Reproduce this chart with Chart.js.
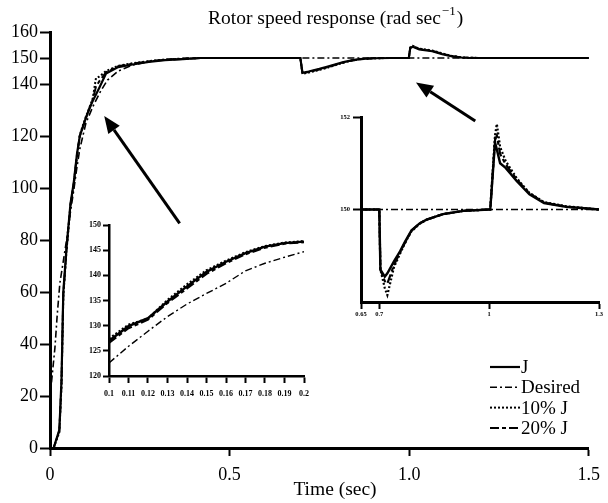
<!DOCTYPE html>
<html>
<head>
<meta charset="utf-8">
<title>Rotor speed response</title>
<script src="https://cdn.jsdelivr.net/npm/chart.js@4.4.1/dist/chart.umd.min.js"></script>
<style>
  body { margin: 0; background: #fff; }
  #wrap { position: relative; width: 608px; height: 503px; }
  #wrap canvas { position: absolute; }
</style>
</head>
<body>
<div id="wrap">
  <canvas id="main" width="608" height="503" style="left:0;top:0"></canvas>
  <canvas id="zoomRise" width="255" height="195" style="left:60px;top:212px"></canvas>
  <canvas id="zoomLoad" width="288" height="225" style="left:320px;top:105px"></canvas>
</div>
<script>
// ---- main plot: rotor speed (rad/s) vs time (s)
const mainTime = [0, 0.01, 0.026, 0.032, 0.037, 0.046, 0.057, 0.066, 0.075, 0.083,
  0.1, 0.11, 0.119, 0.128, 0.137, 0.156, 0.19, 0.23, 0.275, 0.32,
  0.37, 0.42, 0.697, 0.703, 0.72, 0.75, 0.771, 0.8, 0.817, 0.84,
  0.862, 0.9, 0.95, 0.999, 1.003, 1.01, 1.028, 1.064, 1.092, 1.12,
  1.15, 1.2, 1.5];
const speedJ = [0, 0, 7, 26, 60, 77, 94, 102, 113, 120,
  127, 130.5, 133.5, 136, 138.5, 144, 146.5, 147.5, 148.5, 149.2,
  149.6, 150, 150, 144.3, 144.8, 145.8, 146.6, 147.8, 148.4, 149.1,
  149.6, 149.9, 150, 150, 153.8, 154.3, 153.3, 152.6, 151.5, 150.6,
  150.1, 150, 150];
const speedJ10 = [0, 0, 6, 24, 58, 76, 93, 101, 112, 120.5,
  127.5, 131, 134.5, 142.3, 142.8, 145, 147, 148, 148.8, 149.4,
  149.7, 150, 150, 143.9, 144.4, 145.4, 146.2, 147.5, 148.2, 149,
  149.5, 149.9, 150, 150, 154.1, 154.7, 153.6, 152.9, 151.8, 150.8,
  150.2, 150, 150];
const speedJ20 = [0, 0, 6.5, 25, 59, 76.5, 93.5, 101.5, 112.5, 120,
  127, 130.8, 134, 139, 141, 144.5, 146.8, 147.8, 148.7, 149.3,
  149.6, 150, 150, 144.1, 144.6, 145.6, 146.4, 147.6, 148.3, 149,
  149.5, 149.9, 150, 150, 153.9, 154.5, 153.5, 152.8, 151.6, 150.7,
  150.2, 150, 150];
const desiredTime = [0, 0.0137, 0.02, 0.0275, 0.035, 0.045, 0.055, 0.066, 0.075, 0.083,
  0.1, 0.12, 0.14, 0.16, 0.19, 0.23, 0.275, 0.32, 0.38, 1.5];
const speedDesired = [19.5, 38.5, 51, 63.5, 70, 79, 89, 99, 108, 115,
  125, 131.5, 137, 141.5, 145, 147.3, 148.6, 149.4, 150, 150];
const yTicks = [0, 20, 40, 60, 80, 100, 120, 140, 150, 160];
const xTicks = [0, 0.5, 1.0, 1.5];
const xTickLabels = ['0', '0.5', '1.0', '1.5'];

// ---- inset 1: start-up, 0.1 .. 0.2 s
const riseTime = [0.1, 0.11, 0.12, 0.13, 0.14, 0.15, 0.16, 0.17, 0.18, 0.19, 0.2];
const riseJ = [127, 129.9, 131.5, 134.8, 137.8, 140.7, 142.7, 144.4, 145.7, 146.4, 146.7];
const riseJ10 = [127.4, 130.2, 131.4, 135.1, 138.2, 141.0, 142.9, 144.6, 145.8, 146.5, 146.8];
const riseJ20 = [126.6, 129.5, 131.2, 134.5, 137.4, 140.3, 142.4, 144.2, 145.5, 146.3, 146.6];
const riseDesired = [122.6, 125.9, 128.9, 131.8, 134.3, 136.4, 138.4, 140.9, 142.4, 143.6, 144.7];
const riseXTicks = [0.1, 0.11, 0.12, 0.13, 0.14, 0.15, 0.16, 0.17, 0.18, 0.19, 0.2];
const riseXLabels = ['0.1', '0.11', '0.12', '0.13', '0.14', '0.15', '0.16', '0.17', '0.18', '0.19', '0.2'];
const riseYTicks = [120, 125, 130, 135, 140, 145, 150];

// ---- inset 2: load disturbance, 0.65 .. 1.3 s
const loadTime = [0.65, 0.7, 0.703, 0.715, 0.722, 0.74, 0.757, 0.77, 0.788, 0.81,
  0.829, 0.874, 0.93, 1.0, 1.003, 1.016, 1.021, 1.03, 1.045, 1.075,
  1.11, 1.15, 1.21, 1.3];
const loadJ = [150, 150, 148.7, 148.55, 148.62, 148.88, 149.1, 149.3, 149.55, 149.7,
  149.78, 149.9, 149.97, 150, 150, 151.45, 151.3, 151.0, 150.9, 150.62,
  150.33, 150.14, 150.06, 150];
const loadJ10 = [150, 150, 148.7, 148.3, 148.15, 148.75, 149.05, 149.27, 149.53, 149.69,
  149.78, 149.9, 149.97, 150, 150, 151.6, 151.85, 151.35, 151.05, 150.68,
  150.36, 150.16, 150.07, 150];
const loadJ20 = [150, 150, 148.7, 148.45, 148.4, 148.8, 149.08, 149.28, 149.54, 149.7,
  149.78, 149.9, 149.97, 150, 150, 151.5, 151.6, 151.2, 150.98, 150.65,
  150.35, 150.15, 150.06, 150];
const loadDesiredTime = [0.65, 1.3];
const loadDesired = [150, 150];
const loadXTicks = [0.65, 0.7, 1, 1.3];
const loadXLabels = ['0.65', '0.7', '1', '1.3'];
const loadYTicks = [150, 152];

// arrows from the insets to the zoomed regions, in main-plot data units [x0, y0, x1, y1]
const arrows = [[0.361, 86.4, 0.151, 127.7], [1.184, 125.8, 1.019, 140.6]];

const SERIF = '"Liberation Serif", "Times New Roman", serif';
const dashes = { 'J': [], 'Desired': [7, 3, 2, 3], '10% J': [2, 2], '20% J': [9, 3, 4, 3] };

function pts(xs, ys) {
  return xs.map((x, i) => ({ x: x, y: ys[i] }));
}

function series(label, xs, ys, width) {
  return {
    label: label,
    data: pts(xs, ys),
    borderColor: '#000',
    backgroundColor: '#000',
    borderWidth: width,
    borderDash: dashes[label],
    pointRadius: 0,
    showLine: true,
    fill: false,
    tension: 0
  };
}

// one axis: fixed box size, our own tick list, black ticks pointing outward
function axis(min, max, tickVals, labels, size, fontSize, bold, tickLen, pad, lineW) {
  return {
    type: 'linear',
    min: min,
    max: max,
    afterFit: s => {
      if (s.isHorizontal()) s.height = size; else s.width = size;
    },
    afterBuildTicks: s => {
      s.ticks = tickVals.map(v => ({ value: v }));
    },
    ticks: {
      callback: (v, i) => labels ? labels[i] : String(tickVals[i]),
      font: { family: SERIF, size: fontSize, weight: bold ? 'bold' : 'normal' },
      color: '#000',
      padding: pad,
      maxRotation: 0,
      autoSkip: false
    },
    grid: {
      display: true,
      drawOnChartArea: false,
      drawTicks: true,
      tickLength: tickLen,
      tickWidth: 2,
      tickColor: '#000'
    },
    border: { display: true, color: '#000', width: lineW }
  };
}

const decorations = {
  id: 'decorations',
  afterDraw(chart) {
    const ctx = chart.ctx;
    const xs = chart.scales.x, ys = chart.scales.y;
    ctx.save();
    ctx.fillStyle = '#000';
    ctx.strokeStyle = '#000';

    // title with superscript
    ctx.font = '19.5px ' + SERIF;
    ctx.textBaseline = 'alphabetic';
    ctx.textAlign = 'left';
    let tx = 208;
    const t1 = 'Rotor speed response (rad sec';
    ctx.fillText(t1, tx, 24);
    tx += ctx.measureText(t1).width + 1;
    ctx.font = '13px ' + SERIF;
    ctx.fillText('\u22121', tx, 15);
    tx += ctx.measureText('\u22121').width + 1;
    ctx.font = '19.5px ' + SERIF;
    ctx.fillText(')', tx, 24);

    // x axis title
    ctx.textAlign = 'center';
    ctx.fillText('Time (sec)', 335, 495);

    // arrows
    arrows.forEach(a => {
      const x0 = xs.getPixelForValue(a[0]), y0 = ys.getPixelForValue(a[1]);
      const x1 = xs.getPixelForValue(a[2]), y1 = ys.getPixelForValue(a[3]);
      const ang = Math.atan2(y1 - y0, x1 - x0);
      const hl = 17, hw = 7;
      const bx = x1 - hl * Math.cos(ang), by = y1 - hl * Math.sin(ang);
      ctx.lineWidth = 3;
      ctx.setLineDash([]);
      ctx.beginPath();
      ctx.moveTo(x0, y0);
      ctx.lineTo(bx, by);
      ctx.stroke();
      ctx.beginPath();
      ctx.moveTo(x1, y1);
      ctx.lineTo(bx + hw * Math.sin(ang), by - hw * Math.cos(ang));
      ctx.lineTo(bx - hw * Math.sin(ang), by + hw * Math.cos(ang));
      ctx.closePath();
      ctx.fill();
    });

    // legend, bottom right
    ctx.textAlign = 'left';
    ctx.textBaseline = 'middle';
    ctx.font = '19px ' + SERIF;
    chart.data.datasets.forEach((ds, i) => {
      const y = 367 + i * 20.3;
      ctx.lineWidth = ds.borderWidth;
      ctx.setLineDash(ds.borderDash);
      ctx.beginPath();
      ctx.moveTo(490, y);
      ctx.lineTo(520, y);
      ctx.stroke();
      ctx.setLineDash([]);
      ctx.fillText(ds.label, 521, y + 1);
    });
    ctx.restore();
  }
};

const base = {
  responsive: false,
  animation: false,
  events: [],
  plugins: { legend: { display: false }, tooltip: { enabled: false } }
};

new Chart(document.getElementById('main'), {
  type: 'scatter',
  data: {
    datasets: [
      series('J', mainTime, speedJ, 2.2),
      series('Desired', desiredTime, speedDesired, 1.6),
      series('10% J', mainTime, speedJ10, 2),
      series('20% J', mainTime, speedJ20, 2)
    ]
  },
  options: Object.assign({}, base, {
    layout: { padding: { top: 32, right: 12, left: 0, bottom: 0 } },
    scales: {
      x: axis(0, 1.5, xTicks, xTickLabels, 55, 18, false, 8, 8, 3),
      y: axis(0, 160, yTicks, null, 50, 18, false, 10, 2, 3)
    }
  }),
  plugins: [decorations]
});

new Chart(document.getElementById('zoomRise'), {
  type: 'scatter',
  data: {
    datasets: [
      series('J', riseTime, riseJ, 2.4),
      series('Desired', riseTime, riseDesired, 1.4),
      series('10% J', riseTime, riseJ10, 2.2),
      series('20% J', riseTime, riseJ20, 2.2)
    ]
  },
  options: Object.assign({}, base, {
    layout: { padding: { top: 13, right: 10, left: 0, bottom: 0 } },
    scales: {
      x: axis(0.1, 0.2, riseXTicks, riseXLabels, 31, 8, true, 7, 6, 2.5),
      y: axis(120, 150, riseYTicks, null, 49, 8, true, 6, 2, 2.5)
    }
  })
});

new Chart(document.getElementById('zoomLoad'), {
  type: 'scatter',
  data: {
    datasets: [
      series('J', loadTime, loadJ, 2.4),
      series('Desired', loadDesiredTime, loadDesired, 1.4),
      series('10% J', loadTime, loadJ10, 2.2),
      series('20% J', loadTime, loadJ20, 2.2)
    ]
  },
  options: Object.assign({}, base, {
    layout: { padding: { top: 12, right: 9, left: 0, bottom: 0 } },
    scales: {
      x: axis(0.65, 1.3, loadXTicks, loadXLabels, 28, 6.5, true, 7, 1, 3),
      y: axis(148, 152, loadYTicks, null, 41, 6.5, true, 8, 3, 3)
    }
  })
});
</script>
</body>
</html>
